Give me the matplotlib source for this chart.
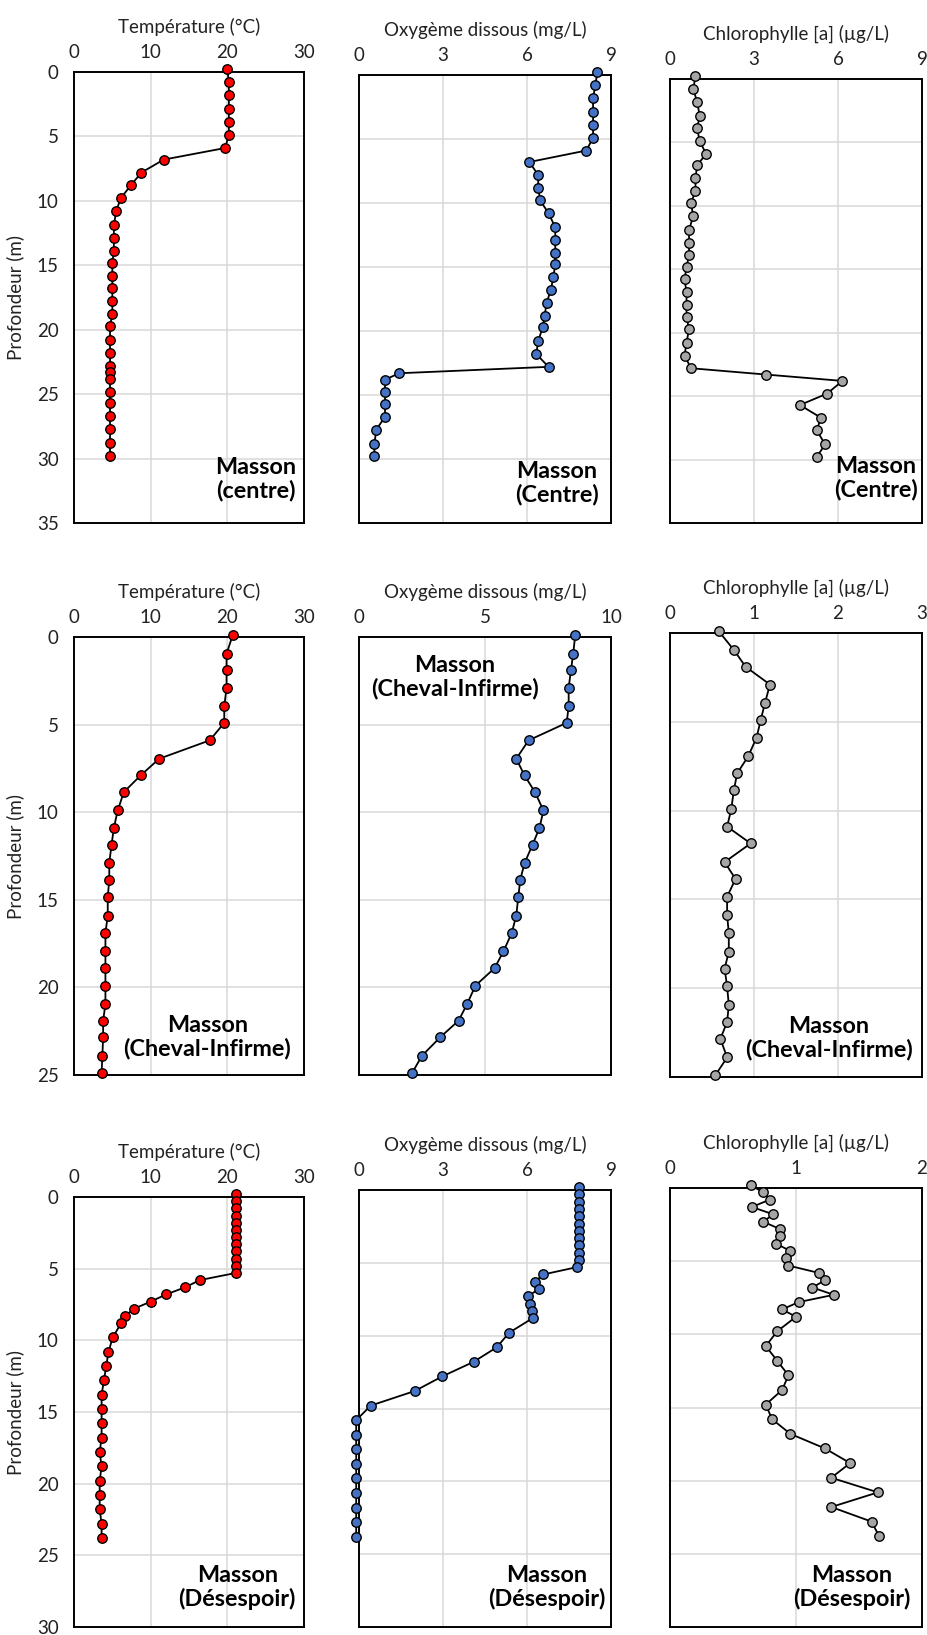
import matplotlib as mpl
import matplotlib.pyplot as plt

mpl.use("Agg")
plt.rcParams["font.family"] = ["Lato", "DejaVu Sans"]

# --- Masson (centre) ---
depth_centre = [-0.2, 0.8, 1.8, 2.9, 3.9, 4.9, 5.9, 6.8, 7.8, 8.8, 9.8, 10.8,
                11.9, 12.9, 13.9, 14.8, 15.8, 16.8, 17.8, 18.8, 19.7, 20.8,
                21.8, 22.8, 23.3, 23.8, 24.8, 25.7, 26.7, 27.7, 28.8, 29.8]
temp_centre = [20.0, 20.2, 20.2, 20.2, 20.2, 20.2, 19.7, 11.7, 8.8, 7.4, 6.1,
               5.5, 5.2, 5.2, 5.2, 5.0, 5.0, 5.0, 5.0, 5.0, 4.7, 4.7, 4.7,
               4.7, 4.7, 4.7, 4.7, 4.7, 4.7, 4.7, 4.7, 4.7]
oxy_centre = [8.51, 8.44, 8.36, 8.36, 8.36, 8.36, 8.12, 6.08, 6.40, 6.40, 6.47,
              6.77, 7.01, 7.01, 7.01, 7.01, 6.94, 6.85, 6.70, 6.63, 6.56, 6.40,
              6.33, 6.77, 1.44, 0.93, 0.93, 0.93, 0.93, 0.62, 0.55, 0.55]
chl_centre = [0.91, 0.83, 0.97, 1.06, 0.97, 1.06, 1.29, 0.97, 0.91, 0.91, 0.75,
              0.83, 0.68, 0.68, 0.68, 0.59, 0.52, 0.59, 0.59, 0.59, 0.68, 0.59,
              0.52, 0.75, 3.44, 6.16, 5.61, 4.64, 5.39, 5.24, 5.54, 5.24]

# --- Masson (Cheval-Infirme) ---
depth_cheval = [-0.1, 0.95, 1.9, 2.9, 3.95, 4.9, 5.9, 6.95, 7.9, 8.85, 9.9,
                10.9, 11.85, 12.9, 13.85, 14.85, 15.9, 16.9, 17.95, 18.9, 19.9,
                20.95, 21.9, 22.85, 23.9, 24.9]
temp_cheval = [20.7, 19.9, 19.9, 19.9, 19.6, 19.6, 17.7, 11.1, 8.7, 6.5, 5.7,
               5.2, 4.9, 4.6, 4.6, 4.4, 4.4, 4.1, 4.1, 4.1, 4.1, 4.1, 3.8, 3.8,
               3.7, 3.6]
oxy_cheval = [8.58, 8.50, 8.41, 8.32, 8.32, 8.24, 6.73, 6.24, 6.57, 6.98, 7.32,
              7.16, 6.89, 6.57, 6.40, 6.32, 6.24, 6.06, 5.73, 5.38, 4.62, 4.29,
              3.95, 3.22, 2.50, 2.10]
chl_cheval = [0.58, 0.76, 0.90, 1.19, 1.13, 1.08, 1.03, 0.93, 0.80, 0.76, 0.73,
              0.68, 0.96, 0.65, 0.78, 0.68, 0.68, 0.70, 0.70, 0.65, 0.68, 0.70,
              0.68, 0.60, 0.68, 0.54]

# --- Masson (Désespoir) ---
depth_desespoir = [-0.2, 0.3, 0.8, 1.3, 1.8, 2.3, 2.8, 3.3, 3.8, 4.3, 4.8, 5.3,
                   5.8, 6.3, 6.8, 7.3, 7.8, 8.3, 8.8, 9.8, 10.8, 11.8, 12.8,
                   13.8, 14.8, 15.8, 16.8, 17.8, 18.8, 19.8, 20.8, 21.8, 22.8,
                   23.8]
temp_desespoir = [21.1, 21.1, 21.1, 21.1, 21.1, 21.1, 21.1, 21.1, 21.1, 21.1,
                  21.1, 21.1, 16.4, 14.5, 12.0, 10.0, 7.8, 6.7, 6.15, 5.05, 4.5,
                  4.2, 3.9, 3.6, 3.6, 3.6, 3.6, 3.35, 3.6, 3.35, 3.35, 3.35,
                  3.6, 3.6]
oxy_desespoir = [7.87, 7.87, 7.87, 7.87, 7.87, 7.87, 7.87, 7.87, 7.87, 7.87,
                 7.87, 7.77, 6.58, 6.28, 6.42, 6.03, 6.10, 6.17, 6.20, 5.36,
                 4.92, 4.09, 2.97, 1.99, 0.42, -0.1, -0.1, -0.1, -0.1, -0.1,
                 -0.1, -0.1, -0.1, -0.1]
chl_desespoir = [0.64, 0.74, 0.79, 0.65, 0.82, 0.74, 0.87, 0.87, 0.84, 0.955,
                 0.92, 0.94, 1.18, 1.23, 1.13, 1.30, 1.02, 0.89, 1.00, 0.85,
                 0.76, 0.85, 0.94, 0.89, 0.76, 0.81, 0.955, 1.23, 1.43, 1.28,
                 1.65, 1.28, 1.60, 1.66]

title_temp = "Température (°C)"
title_oxy = "Oxygème dissous (mg/L)"
title_chl = "Chlorophylle [a] (µg/L)"
ylabel = "Profondeur (m)"

RED = "#FF0000"
BLUE = "#4472C4"
GREY = "#A5A5A5"

W, H = 928, 1635
fig = plt.figure(figsize=(W / 100, H / 100), dpi=100)


def panel(left, top, right, bottom, x, y, color, xmax, xstep, ymax, title,
          label, label_xy, show_y=False):
    ax = fig.add_axes([left / W, 1 - bottom / H, (right - left) / W,
                       (bottom - top) / H])
    ax.plot(x, y, "-o", color="black", lw=1.3, ms=6.8, mfc=color, mec="black",
            mew=1.0, clip_on=False, zorder=3)
    ax.set_xlim(0, xmax)
    ax.set_ylim(ymax, 0)
    ax.set_xticks(range(0, xmax + 1, xstep))
    ax.set_yticks(range(0, ymax + 1, 5))
    ax.grid(True, color="#D9D9D9", lw=1.1)
    ax.set_axisbelow(True)
    ax.xaxis.tick_top()
    ax.xaxis.set_label_position("top")
    ax.tick_params(length=0, labelsize=13.5, colors="#222222")
    ax.tick_params(axis="x", pad=8)
    ax.tick_params(axis="y", pad=11, labelleft=show_y)
    for s in ax.spines.values():
        s.set_linewidth(1.4)
        s.set_color("black")
    ax.set_xlabel(title, fontsize=13.5, labelpad=8, color="#222222")
    if show_y:
        ax.set_ylabel(ylabel, fontsize=13.5, labelpad=9, color="#222222")
    ax.text(label_xy[0], label_xy[1], label, transform=ax.transAxes,
            ha="center", va="center", multialignment="center",
            fontsize=16.8, fontweight="bold", linespacing=1.1)
    return ax


# row 1
panel(74, 72, 304, 523, temp_centre, depth_centre, RED, 30, 10, 35,
      title_temp, "Masson\n(centre)", (0.79, 0.098), show_y=True)
panel(359, 75, 611, 523, oxy_centre, depth_centre, BLUE, 9, 3, 35,
      title_oxy, "Masson\n(Centre)", (0.785, 0.089))
panel(670, 79, 922, 523, chl_centre, depth_centre, GREY, 9, 3, 35,
      title_chl, "Masson\n(Centre)", (0.816, 0.10))

# row 2
panel(74, 637, 304, 1075, temp_cheval, depth_cheval, RED, 30, 10, 25,
      title_temp, "Masson\n(Cheval-Infirme)", (0.58, 0.086), show_y=True)
panel(359, 637, 611, 1075, oxy_cheval, depth_cheval, BLUE, 10, 5, 25,
      title_oxy, "Masson\n(Cheval-Infirme)", (0.38, 0.909))
panel(670, 633, 922, 1077, chl_cheval, depth_cheval, GREY, 3, 1, 25,
      title_chl, "Masson\n(Cheval-Infirme)", (0.63, 0.088))

# row 3
panel(74, 1197, 304, 1627, temp_desespoir, depth_desespoir, RED, 30, 10, 30,
      title_temp, "Masson\n(Désespoir)", (0.71, 0.091), show_y=True)
panel(359, 1190, 611, 1627, oxy_desespoir, depth_desespoir, BLUE, 9, 3, 30,
      title_oxy, "Masson\n(Désespoir)", (0.745, 0.09))
panel(670, 1188, 922, 1627, chl_desespoir, depth_desespoir, GREY, 2, 1, 30,
      title_chl, "Masson\n(Désespoir)", (0.722, 0.09))

fig.savefig("out.png", dpi=100)
